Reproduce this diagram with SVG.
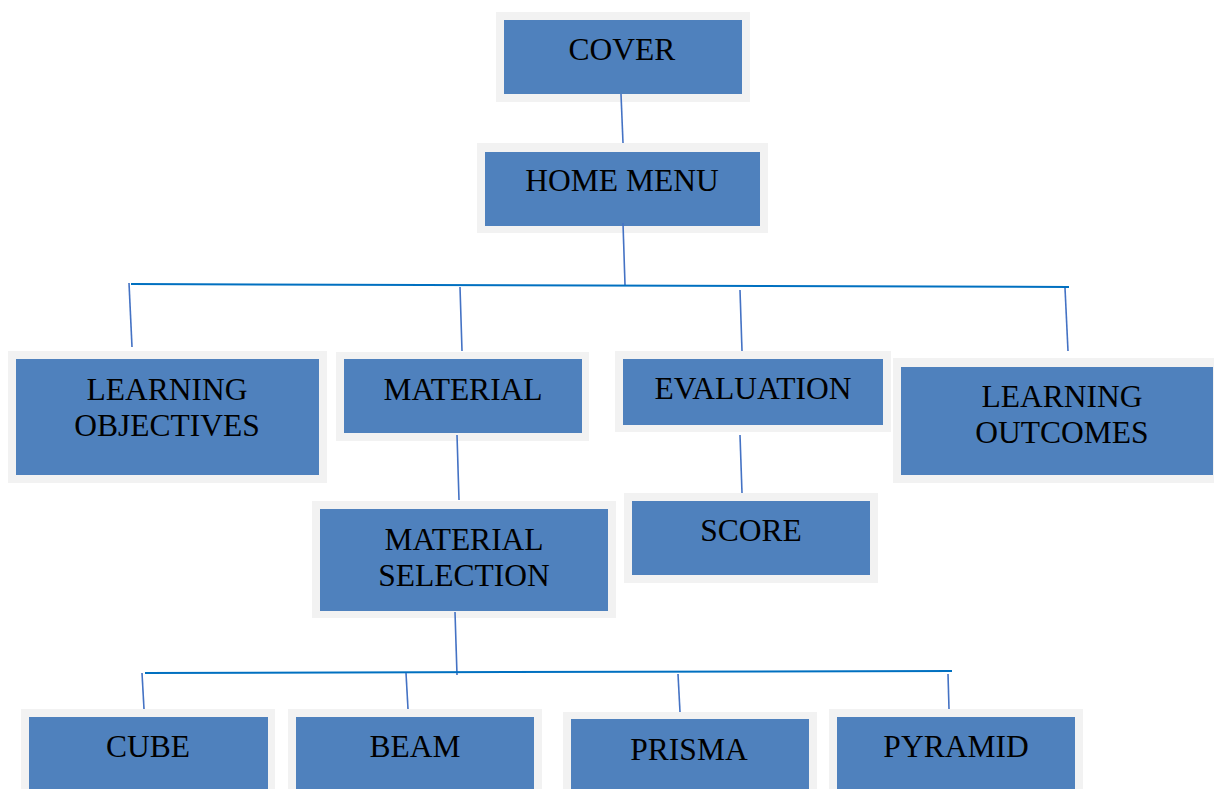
<svg xmlns="http://www.w3.org/2000/svg" width="1214" height="789" viewBox="0 0 1214 789">
<style>
.o{fill:#F2F2F2}
.i{fill:#4F81BD}
.t{font-family:"Liberation Serif","Times New Roman",serif;font-size:31.5px;fill:#000;text-anchor:middle}
.c{stroke:#4472C4;stroke-width:1.6;fill:none}
.b{stroke:#0070C0;stroke-width:2;fill:none}
</style>
<rect width="1214" height="789" fill="#fff"/>
<g id="cover">
<rect class="o" x="496" y="12" width="254" height="90"/>
<rect class="i" x="504" y="20" width="238" height="74"/>
<text class="t" x="622" y="60">COVER</text>
</g>
<g id="home-menu">
<rect class="o" x="477" y="143" width="291" height="90"/>
<rect class="i" x="485" y="152" width="275" height="74"/>
<text class="t" x="622" y="191">HOME MENU</text>
</g>
<g id="learning-objectives">
<rect class="o" x="8" y="351" width="319" height="132"/>
<rect class="i" x="16" y="359" width="303" height="116"/>
<text class="t" x="167" y="400">LEARNING</text>
<text class="t" x="167" y="436">OBJECTIVES</text>
</g>
<g id="material">
<rect class="o" x="336" y="352" width="253" height="89"/>
<rect class="i" x="344" y="359" width="238" height="74"/>
<text class="t" x="463" y="400">MATERIAL</text>
</g>
<g id="evaluation">
<rect class="o" x="615" y="351" width="276" height="81"/>
<rect class="i" x="623" y="359" width="260" height="66"/>
<text class="t" x="753" y="399">EVALUATION</text>
</g>
<g id="learning-outcomes">
<rect class="o" x="893" y="358" width="330" height="125"/>
<rect class="i" x="901" y="367" width="312" height="108"/>
<text class="t" x="1062" y="407">LEARNING</text>
<text class="t" x="1062" y="443">OUTCOMES</text>
</g>
<g id="material-selection">
<rect class="o" x="312" y="501" width="304" height="117"/>
<rect class="i" x="320" y="509" width="288" height="102"/>
<text class="t" x="464" y="550">MATERIAL</text>
<text class="t" x="464" y="586">SELECTION</text>
</g>
<g id="score">
<rect class="o" x="624" y="493" width="254" height="90"/>
<rect class="i" x="632" y="501" width="238" height="74"/>
<text class="t" x="751" y="541">SCORE</text>
</g>
<g id="cube">
<rect class="o" x="21" y="709" width="254" height="100"/>
<rect class="i" x="29" y="717" width="239" height="90"/>
<text class="t" x="148" y="757">CUBE</text>
</g>
<g id="beam">
<rect class="o" x="288" y="709" width="254" height="100"/>
<rect class="i" x="296" y="717" width="238" height="90"/>
<text class="t" x="415" y="757">BEAM</text>
</g>
<g id="prisma">
<rect class="o" x="563" y="712" width="254" height="100"/>
<rect class="i" x="571" y="719" width="238" height="90"/>
<text class="t" x="689" y="760">PRISMA</text>
</g>
<g id="pyramid">
<rect class="o" x="829" y="709" width="254" height="100"/>
<rect class="i" x="837" y="717" width="238" height="90"/>
<text class="t" x="956" y="757">PYRAMID</text>
</g>
<g id="connectors">
<line class="c" x1="621" y1="94" x2="623" y2="143"/>
<line class="c" x1="623" y1="223" x2="625" y2="285"/>
<line class="b" x1="131" y1="284" x2="1069" y2="287"/>
<line class="c" x1="129" y1="283" x2="132" y2="347"/>
<line class="c" x1="460" y1="287" x2="462" y2="351"/>
<line class="c" x1="740" y1="290" x2="742" y2="351"/>
<line class="c" x1="1065" y1="288" x2="1068" y2="351"/>
<line class="c" x1="457" y1="435" x2="459" y2="500"/>
<line class="c" x1="740" y1="435" x2="742" y2="493"/>
<line class="c" x1="455" y1="612" x2="457" y2="675"/>
<line class="b" x1="145" y1="673" x2="952" y2="671"/>
<line class="c" x1="142" y1="673" x2="144" y2="709"/>
<line class="c" x1="406" y1="673" x2="408" y2="709"/>
<line class="c" x1="678" y1="674" x2="680" y2="712"/>
<line class="c" x1="948" y1="674" x2="949" y2="709"/>
</g>
</svg>
